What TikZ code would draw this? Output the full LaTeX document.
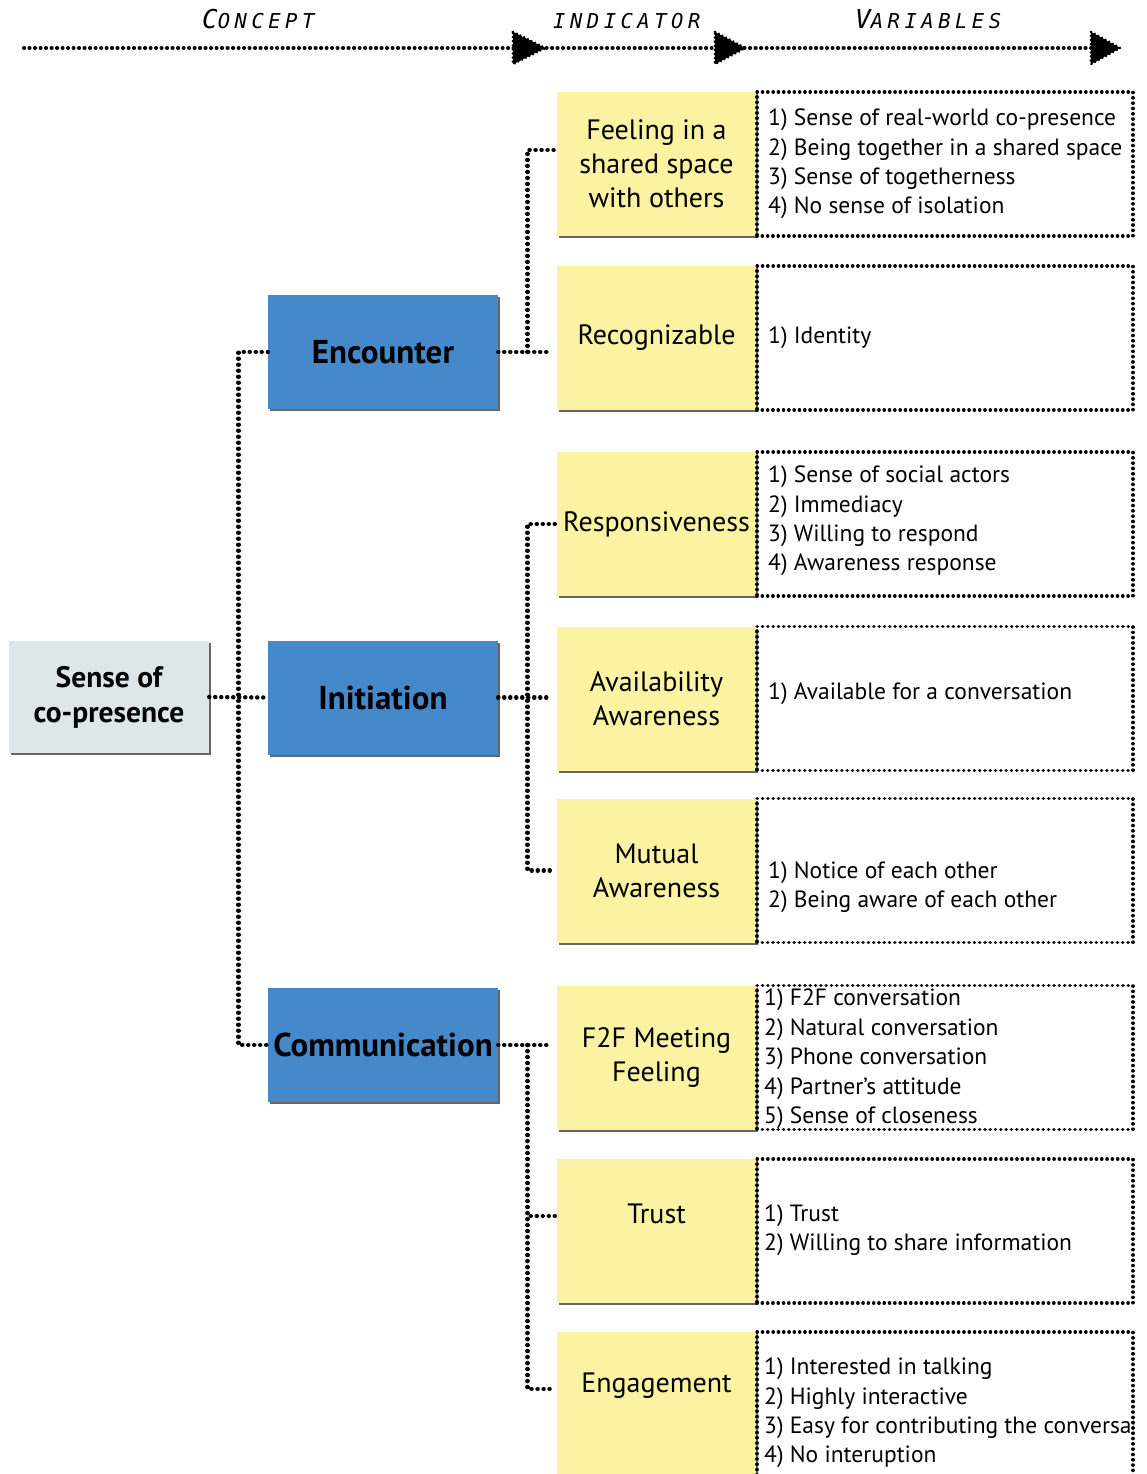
\documentclass[tikz,border=0pt]{standalone}
\usepackage{fontspec}
\setmainfont{PT Sans}
\newfontfamily\hdrfamily{DejaVu Sans Mono Oblique}[LetterSpace=22]
\usetikzlibrary{calc,shadows}
\definecolor{conceptfill}{HTML}{DCE6EB}
\definecolor{dimfill}{HTML}{4589CA}
\definecolor{indfill}{HTML}{FBF3A1}
\newcommand{\hdrbig}{\fontsize{26}{26}\selectfont}
\newcommand{\hdrsmall}{\fontsize{20.5}{20.5}\selectfont}
\begin{document}
\begin{tikzpicture}[x=1pt,y=-1pt,
  boxshadow/.style={drop shadow={shadow xshift=1.5pt,shadow yshift=-2pt,fill=black,opacity=0.6}},
  conceptbox/.style={boxshadow,fill=conceptfill,minimum width=200pt,minimum height=112pt,
    inner sep=0pt,align=center,font=\bfseries\fontsize{29.5}{35}\selectfont},
  dimbox/.style={boxshadow,fill=dimfill,minimum width=230pt,minimum height=114pt,
    inner sep=0pt,align=center,font=\bfseries\fontsize{33}{38}\selectfont},
  indbox/.style={boxshadow,fill=indfill,minimum width=199pt,minimum height=144pt,
    inner sep=0pt,align=center,font=\fontsize{28}{34}\selectfont},
  textup/.style={text depth=#1},
  varbox/.style={draw,line width=3.6pt,dash pattern=on 0.1pt off 5.2pt,line cap=round,
    minimum width=376pt,minimum height=144pt,inner sep=0pt},
  vartext/.style={anchor=west,align=left,inner sep=0pt,font=\fontsize{23.5}{29.4}\selectfont},
  conn/.style={line width=4.4pt,dash pattern=on 0.1pt off 5.9pt,line cap=round},
  hdrline/.style={line width=4pt,dash pattern=on 0.1pt off 5.4pt,line cap=round},
  hdrtip/.style={fill=black,draw=black,line width=3pt,dash pattern=on 0.1pt off 4pt,
    line cap=round,line join=round},
  hdr/.style={anchor=base west,inner sep=0pt,font=\hdrfamily}
]
\useasboundingbox (0,0) rectangle (1146,1474);
\clip (0,0) rectangle (1146,1474);

% column headings and the dotted arrow beneath them
\node[hdr] (hconcept) at (202,29) {{\hdrbig C}{\hdrsmall ONCEPT}};
\node[hdr] (hindicator) at (553,29) {{\hdrsmall INDICATOR}};
\node[hdr] (hvariables) at (855,29) {{\hdrbig V}{\hdrsmall ARIABLES}};
\coordinate (hstart) at (24,48);
\coordinate (hend) at (1112,48);
\draw[hdrline] (hstart) -- (hend);
\foreach \tx/\tw in {513/32,715/30,1091/29}{
  \draw[hdrtip] (\tx,32) -- (\tx+\tw,48) -- (\tx,64) -- cycle;
}

% concept
\node[conceptbox] (sense) at (109,697) {Sense of\\co-presence};

% dimensions
\node[dimbox] (enc)  at (383,352)    {Encounter};
\node[dimbox] (init) at (383,697.5)  {Initiation};
\node[dimbox] (comm) at (383,1045)   {Communication};

% indicators
\node[indbox] (feel)   at (656.5,164)    {Feeling in a\\shared space\\with others};
\node[indbox] (rec)    at (656.5,338)    {Recognizable};
\node[indbox] (resp)   at (656.5,524)    {Responsiveness};
\node[indbox] (avail)  at (656.5,698.5)  {Availability\\Awareness};
\node[indbox] (mutual) at (656.5,870.5)  {Mutual\\Awareness};
\node[indbox] (f2f)    at (656.5,1057.5) {F2F Meeting\\Feeling};
\node[indbox,textup=34pt] (trust)  at (656.5,1231) {Trust};
\node[indbox,textup=42pt] (engage) at (656.5,1404) {Engagement};

% variable frames
\node[varbox] (v1) at (945,164)    {};
\node[varbox] (v2) at (945,338)    {};
\node[varbox] (v3) at (945,524)    {};
\node[varbox] (v4) at (945,698.5)  {};
\node[varbox] (v5) at (945,870.5)  {};
\node[varbox] (v6) at (945,1057.5) {};
\node[varbox] (v7) at (945,1231)   {};
\node[varbox] (v8) at (945,1404)   {};

% variable lists
\node[vartext] (v1t) at (768,164) {1) Sense of real-world co-presence\\2) Being together in a shared space\\3) Sense of togetherness\\4) No sense of isolation};
\node[vartext] (v2t) at (768,338) {1) Identity};
\node[vartext] (v3t) at (768,521) {1) Sense of social actors\\2) Immediacy\\3) Willing to respond\\4) Awareness response};
\node[vartext] (v4t) at (768,694) {1) Available for a conversation};
\node[vartext] (v5t) at (768,887) {1) Notice of each other\\2) Being aware of each other};
\node[vartext] (v6t) at (764,1059) {1) F2F conversation\\2) Natural conversation\\3) Phone conversation\\4) Partner’s attitude\\5) Sense of closeness};
\node[vartext] (v7t) at (764,1230) {1) Trust\\2) Willing to share information};
\begin{scope}
  \clip (757,1330) rectangle (1133,1480);
  \node[vartext] (v8t) at (764,1413) {1) Interested in talking\\2) Highly interactive\\3) Easy for contributing the conversation\\4) No interuption};
\end{scope}

% concept to dimensions
\draw[conn] (sense.east) -- (init.west);
\coordinate (trunk) at ($(sense.east)!0.5!(init.west)$);
\draw[conn] (enc.west) -| (trunk) |- (comm.west);

% encounter to its indicators
\draw[conn] (enc.east) -- ([xshift=-5pt]enc.east -| rec.west);
\coordinate (j1) at ($(enc.east)!0.5!(enc.east -| feel.west)$);
\draw[conn] (j1) |- ([xshift=-2pt,yshift=14pt]feel.west);

% initiation to its indicators
\draw[conn] (init.east) -- ([xshift=-5pt]init.east -| avail.west);
\coordinate (j2) at (j1 |- init.east);
\draw[conn] ([xshift=-2pt]resp.west) -| (j2) |- ([xshift=-2pt]mutual.west);

% communication to its indicators
\draw[conn] (comm.east) -- ([xshift=-5pt]comm.east -| f2f.west);
\coordinate (j3) at (j1 |- comm.east);
\coordinate (ttap) at ([xshift=-2pt,yshift=15pt]trust.west);
\coordinate (etap) at ([xshift=-2pt,yshift=15pt]engage.west);
\draw[conn] (j3) |- (etap);
\draw[conn] (ttap) -- (ttap -| j3);
\end{tikzpicture}
\end{document}
